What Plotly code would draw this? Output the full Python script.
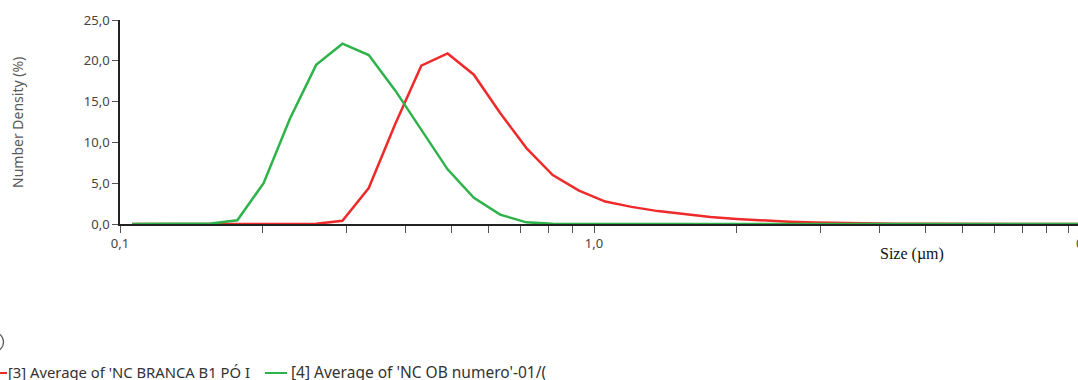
import plotly.graph_objects as go

# Size classes (µm), bin midpoints
sizes = [0.10609, 0.12054, 0.13696, 0.15561, 0.17681, 0.20089, 0.22825, 0.25933,
         0.29465, 0.33478, 0.38037, 0.43217, 0.49103, 0.55790, 0.63387, 0.72020,
         0.81828, 0.92971, 1.0563, 1.2002, 1.3636, 1.5493, 1.7603, 2.0000,
         2.2724, 2.5819, 2.9335, 3.3330, 3.7869, 4.3026, 4.8886, 5.5544,
         6.3108, 7.1702, 8.1467, 9.2561, 10.517, 11.949]

# Number density (%) - [3] NC BRANCA B1 PÓ
red_vals = [0, 0, 0, 0, 0, 0, 0, 0.02,
            0.4, 4.4, 12.2, 19.4, 20.9, 18.3, 13.6, 9.3,
            6.0, 4.1, 2.75, 2.1, 1.58, 1.2, 0.85, 0.62,
            0.43, 0.28, 0.18, 0.11, 0.07, 0.04, 0.02, 0.01,
            0, 0, 0, 0, 0, 0]

# Number density (%) - [4] NC OB numero
green_vals = [0, 0, 0, 0.05, 0.45, 5.0, 12.9, 19.5,
              22.1, 20.7, 16.4, 11.5, 6.7, 3.2, 1.15, 0.2,
              0.02, 0, 0, 0, 0, 0, 0, 0,
              0, 0, 0, 0, 0, 0, 0, 0,
              0, 0, 0, 0, 0, 0]

red_name = "[3] Average of 'NC BRANCA B1 PÓ I"
green_name = "[4] Average of 'NC OB numero'-01/("

x_tickvals = [0.1, 0.2, 0.3, 0.4, 0.5, 0.6, 0.7, 0.8, 0.9,
              1, 2, 3, 4, 5, 6, 7, 8, 9, 10]
x_ticktext = ["0,1", "", "", "", "", "", "", "", "",
              "1,0", "", "", "", "", "", "", "", "", ""]
y_tickvals = [0, 5, 10, 15, 20, 25]

W, H = 1078, 380
L, T, R = 120, 20, 0
PW = W - L - R
PH = 204
B = H - T - PH
DECADE = 474.0


def px(xp):
    return (xp - L) / PW


def py(yp):
    return (T + PH - yp) / PH


RED = "#ee2a2a"
GREEN = "#2eb34a"
FONT = "Noto Sans"

fig = go.Figure()
fig.add_trace(go.Scatter(x=sizes, y=red_vals, mode="lines", name=red_name,
                         line=dict(color=RED, width=2.5), showlegend=False))
fig.add_trace(go.Scatter(x=sizes, y=green_vals, mode="lines", name=green_name,
                         line=dict(color=GREEN, width=2.5), showlegend=False))

fig.update_layout(
    width=W, height=H,
    margin=dict(l=L, r=R, t=T, b=B, pad=0),
    paper_bgcolor="white", plot_bgcolor="white",
    separators=",.",
    font=dict(family=FONT, size=13, color="#444444"),
    showlegend=False,
)
fig.update_xaxes(
    type="log", range=[-1, -1 + PW / DECADE],
    tickvals=x_tickvals, ticktext=x_ticktext,
    showgrid=False, zeroline=False,
    showline=True, linecolor="#222222", linewidth=1.5,
    ticks="outside", ticklen=7, tickwidth=1.3, tickcolor="#555555",
    tickfont=dict(family=FONT, size=13, color="#444444"),
)
fig.update_yaxes(
    range=[0, 25], tickvals=y_tickvals, tickformat=".1f",
    showgrid=False, zeroline=False,
    showline=True, linecolor="#222222", linewidth=1.5,
    ticks="outside", ticklen=6, tickwidth=1.3, tickcolor="#555555",
    tickfont=dict(family=FONT, size=13, color="#444444"),
)

annotations = [
    dict(text="Number Density (%)", x=px(17), y=py(123), xref="paper", yref="paper",
         textangle=-90, showarrow=False, xanchor="center", yanchor="middle",
         font=dict(family=FONT, size=14, color="#595959")),
    dict(text="Size (µm)", x=px(912), y=py(254), xref="paper", yref="paper",
         showarrow=False, xanchor="center", yanchor="middle",
         font=dict(family="Liberation Serif", size=16, color="#111111")),
    dict(text="0", x=px(1074), y=py(243), xref="paper", yref="paper",
         showarrow=False, xanchor="left", yanchor="middle",
         font=dict(family=FONT, size=13, color="#444444")),
    dict(text=red_name, x=px(6), y=py(372), xref="paper", yref="paper",
         showarrow=False, xanchor="left", yanchor="middle",
         font=dict(family=FONT, size=14.8, color="#333333")),
    dict(text=green_name, x=px(289), y=py(372), xref="paper", yref="paper",
         showarrow=False, xanchor="left", yanchor="middle",
         font=dict(family=FONT, size=15.5, color="#333333")),
]
for a in annotations:
    fig.add_annotation(**a)

shapes = [
    dict(type="line", xref="paper", yref="paper", x0=px(-15), x1=px(7),
         y0=py(373), y1=py(373), line=dict(color=RED, width=2)),
    dict(type="line", xref="paper", yref="paper", x0=px(265), x1=px(287),
         y0=py(373), y1=py(373), line=dict(color=GREEN, width=2)),
    dict(type="circle", xref="paper", yref="paper", x0=px(-17), x1=px(3.5),
         y0=py(352), y1=py(332), line=dict(color="#555555", width=1.2)),
]
for s in shapes:
    fig.add_shape(**s)

fig.write_html("out.html", config={"displayModeBar": False},
               post_script="document.body.style.margin='0px';")
